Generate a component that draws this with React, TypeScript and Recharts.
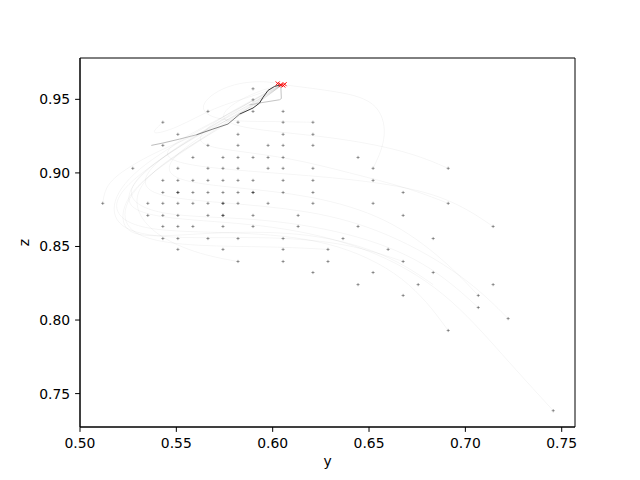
import { ScatterChart, Scatter, XAxis, YAxis, ReferenceArea } from "recharts"

const xDomain: [number, number] = [0.5, 0.7569]
const yDomain: [number, number] = [0.7273, 0.9781]
const xTicks = [0.5, 0.55, 0.6, 0.65, 0.7, 0.75]
const yTicks = [0.75, 0.8, 0.85, 0.9, 0.95]

// start positions, one row per z value: [z, y values]
const startRows: [number, number[]][] = [
  [0.9572, [0.5898]],
  [0.9497, [0.5898]],
  [0.9418, [0.5664, 0.5898, 0.6054]],
  [0.9344, [0.543, 0.582, 0.6054, 0.6209]],
  [0.9262, [0.5508, 0.582, 0.6054, 0.6209]],
  [0.9187, [0.543, 0.5664, 0.582, 0.5976, 0.6054, 0.6209]],
  [0.9105, [0.5586, 0.5742, 0.582, 0.5898, 0.5976, 0.6054, 0.6443]],
  [0.9031, [0.5274, 0.5508, 0.5664, 0.5742, 0.582, 0.5976, 0.6054, 0.6209, 0.6521, 0.6911]],
  [0.8949, [0.543, 0.5508, 0.5586, 0.5664, 0.5742, 0.582, 0.5898, 0.6054, 0.6209, 0.6521]],
  [0.8867, [0.543, 0.5508, 0.5508, 0.5586, 0.5664, 0.5742, 0.582, 0.5898, 0.5898, 0.6054, 0.6209, 0.6677]],
  [0.8793, [0.5118, 0.5352, 0.543, 0.5508, 0.5586, 0.5664, 0.5742, 0.5742, 0.582, 0.5976, 0.6209, 0.6521, 0.6911]],
  [0.8711, [0.5352, 0.543, 0.5508, 0.5664, 0.5742, 0.5742, 0.5898, 0.6132, 0.6677]],
  [0.8636, [0.543, 0.5508, 0.5586, 0.5742, 0.5898, 0.6132, 0.6443, 0.7144]],
  [0.8554, [0.543, 0.5508, 0.5664, 0.582, 0.6054, 0.6365, 0.6833]],
  [0.848, [0.5508, 0.5742, 0.6054, 0.6287, 0.6599]],
  [0.8398, [0.582, 0.6054, 0.6287, 0.6677]],
  [0.8323, [0.6209, 0.6521, 0.6833]],
  [0.8241, [0.6443, 0.6755, 0.7144]],
  [0.8167, [0.6677, 0.7067]],
  [0.8085, [0.7067]],
  [0.801, [0.7222]],
  [0.7929, [0.6911]],
  [0.7384, [0.7456]],
]

// faint trajectories, [y, z] pairs
const fadedPaths: number[][][] = [
  [[0.7456, 0.7384], [0.72, 0.775], [0.69, 0.82], [0.65, 0.85], [0.6, 0.865], [0.55, 0.868], [0.52, 0.875], [0.53, 0.9], [0.56, 0.925], [0.59, 0.945], [0.605, 0.96]],
  [[0.7222, 0.801], [0.7, 0.83], [0.66, 0.86], [0.62, 0.875], [0.57, 0.88], [0.53, 0.885], [0.535, 0.905], [0.565, 0.93], [0.6, 0.955], [0.605, 0.96]],
  [[0.7144, 0.8636], [0.69, 0.885], [0.65, 0.895], [0.6, 0.9], [0.55, 0.905], [0.54, 0.915], [0.57, 0.935], [0.605, 0.96]],
  [[0.6911, 0.9031], [0.67, 0.915], [0.63, 0.925], [0.58, 0.93], [0.57, 0.94], [0.59, 0.955], [0.605, 0.96]],
  [[0.6911, 0.7929], [0.67, 0.83], [0.63, 0.855], [0.58, 0.86], [0.53, 0.86], [0.515, 0.875], [0.525, 0.895], [0.56, 0.925], [0.6, 0.958], [0.605, 0.96]],
  [[0.7067, 0.8085], [0.68, 0.84], [0.64, 0.86], [0.59, 0.87], [0.54, 0.87], [0.52, 0.885], [0.54, 0.91], [0.58, 0.94], [0.605, 0.96]],
  [[0.6677, 0.8398], [0.64, 0.852], [0.6, 0.857], [0.55, 0.855], [0.52, 0.86], [0.515, 0.88], [0.53, 0.905], [0.57, 0.935], [0.605, 0.96]],
  [[0.6521, 0.9031], [0.66, 0.925], [0.655, 0.95], [0.63, 0.956], [0.605, 0.96]],
  [[0.6209, 0.9344], [0.6, 0.935], [0.57, 0.935], [0.56, 0.945], [0.575, 0.96], [0.595, 0.963], [0.605, 0.96]],
  [[0.543, 0.9344], [0.535, 0.925], [0.55, 0.93], [0.57, 0.945], [0.59, 0.952], [0.605, 0.96]],
  [[0.5118, 0.8793], [0.513, 0.89], [0.52, 0.9], [0.54, 0.915], [0.565, 0.928], [0.59, 0.945], [0.605, 0.96]],
  [[0.6833, 0.8241], [0.66, 0.845], [0.62, 0.86], [0.57, 0.86], [0.53, 0.855], [0.52, 0.865], [0.525, 0.89], [0.56, 0.92], [0.6, 0.955], [0.605, 0.96]],
  [[0.7067, 0.8167], [0.69, 0.84], [0.66, 0.87], [0.62, 0.885], [0.58, 0.89], [0.545, 0.895], [0.545, 0.91], [0.575, 0.935], [0.605, 0.96]],
  [[0.6287, 0.848], [0.6, 0.85], [0.56, 0.85], [0.53, 0.855], [0.52, 0.87], [0.53, 0.895], [0.565, 0.925], [0.605, 0.96]],
  [[0.582, 0.8398], [0.56, 0.845], [0.535, 0.86], [0.525, 0.885], [0.545, 0.91], [0.58, 0.935], [0.605, 0.96]],
  [[0.6911, 0.8793], [0.67, 0.89], [0.64, 0.9], [0.61, 0.91], [0.58, 0.915], [0.555, 0.92], [0.575, 0.94], [0.605, 0.96]],
]

// highlighted path
const bestY = [0.537, 0.543, 0.5517, 0.5604, 0.569, 0.5768, 0.5794, 0.5829, 0.5898, 0.5932, 0.595, 0.5976, 0.601, 0.6042]
const bestZ = [0.9187, 0.9203, 0.923, 0.9259, 0.9298, 0.9332, 0.9361, 0.94, 0.9441, 0.9475, 0.9514, 0.9561, 0.9588, 0.9599]
const backY = [0.6042, 0.6045, 0.6035, 0.594, 0.588]
const backZ = [0.9599, 0.9505, 0.9497, 0.9477, 0.9462]

// goal markers
const goalY = [0.6026, 0.6042, 0.6055, 0.6062]
const goalZ = [0.9608, 0.9598, 0.9594, 0.9603]

const starts = startRows.flatMap(([z, ys]) => ys.map((y) => ({ x: y, y: z })))
const pairs = (ys: number[], zs: number[]) => ys.map((y, i) => ({ x: y, y: zs[i] }))
const best = pairs(bestY, bestZ)
const bestParts = [best.slice(0, 4), best.slice(3, 8), best.slice(7)]
const partColors = ["#b4b4b4", "#707070", "#222222"]
const goals = pairs(goalY, goalZ)

const font = "'DejaVu Sans', sans-serif"
const tickStyle = { fontSize: 13.9, fill: "#000", fontFamily: font }
const none = () => <g />

const Plus = (props: any) => {
  const { cx, cy } = props
  return (
    <path
      d={`M${cx - 1.6},${cy}H${cx + 1.6}M${cx},${cy - 1.6}V${cy + 1.6}`}
      stroke="#000"
      strokeOpacity={0.45}
      strokeWidth={0.8}
    />
  )
}

const Cross = (props: any) => {
  const { cx, cy } = props
  return (
    <path
      d={`M${cx - 2},${cy - 2}L${cx + 2},${cy + 2}M${cx - 2},${cy + 2}L${cx + 2},${cy - 2}`}
      stroke="#ff0000"
      strokeWidth={1}
    />
  )
}

export default function App() {
  return (
    <div style={{ position: "absolute", left: 0, top: 0, background: "#fff" }}>
      <ScatterChart width={640} height={480} margin={{ top: 58, right: 65, left: 0, bottom: 0 }}>
        <XAxis
          type="number"
          dataKey="x"
          domain={xDomain}
          ticks={xTicks}
          allowDataOverflow
          tickFormatter={(v: number) => v.toFixed(2)}
          tick={tickStyle}
          tickSize={4.9}
          tickMargin={6}
          stroke="#000"
          height={53}
          label={{ value: "y", position: "insideBottom", offset: 14, style: { fontSize: 13.9, fill: "#000", fontFamily: font } }}
        />
        <YAxis
          type="number"
          dataKey="y"
          domain={yDomain}
          ticks={yTicks}
          allowDataOverflow
          tickFormatter={(v: number) => v.toFixed(2)}
          tick={tickStyle}
          tickSize={4.9}
          tickMargin={5}
          stroke="#000"
          width={80}
          label={{
            content: () => (
              <text x={29} y={242.5} transform="rotate(-90 29 242.5)" textAnchor="middle" fontSize={13.9} fontFamily={font} fill="#000">
                z
              </text>
            ),
          }}
        />
        <ReferenceArea x1={xDomain[0]} x2={xDomain[1]} y1={yDomain[0]} y2={yDomain[1]} fill="none" stroke="#000" strokeOpacity={1} />
        {fadedPaths.map((p, i) => (
          <Scatter
            key={i}
            data={p.map(([y, z]) => ({ x: y, y: z }))}
            line={{ stroke: "#000", strokeOpacity: 0.05, strokeWidth: 0.8 }}
            lineJointType="basis"
            shape={none}
            isAnimationActive={false}
          />
        ))}
        <Scatter data={starts} shape={Plus} isAnimationActive={false} />
        <Scatter
          data={pairs(backY, backZ)}
          line={{ stroke: "#c4c4c4", strokeWidth: 1 }}
          shape={none}
          isAnimationActive={false}
        />
        {bestParts.map((p, i) => (
          <Scatter
            key={"b" + i}
            data={p}
            line={{ stroke: partColors[i], strokeWidth: 0.9 }}
            shape={none}
            isAnimationActive={false}
          />
        ))}
        <Scatter data={goals} shape={Cross} isAnimationActive={false} />
      </ScatterChart>
    </div>
  )
}
